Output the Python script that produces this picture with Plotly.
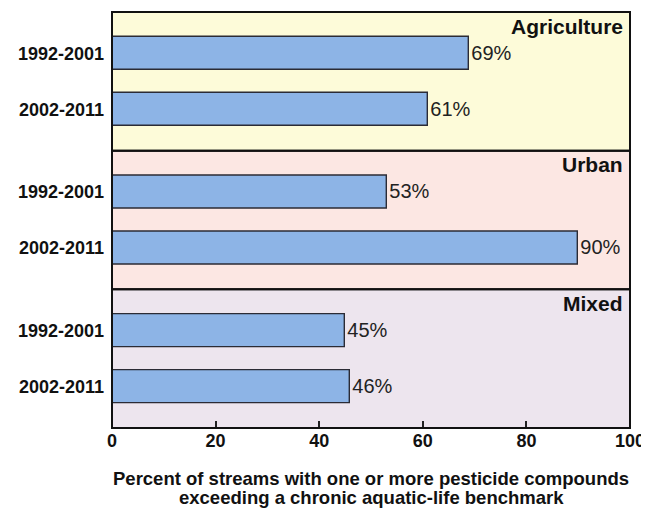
import plotly.graph_objects as go
from plotly.subplots import make_subplots

panels = ["Agriculture", "Urban", "Mixed"]
periods = ["1992-2001", "2002-2011"]
values = {
    "Agriculture": [69, 61],
    "Urban": [53, 90],
    "Mixed": [45, 46],
}
bg_colors = ["#FDFBD9", "#FCE7E3", "#EDE5EE"]
x_ticks = [0, 20, 40, 60, 80, 100]
title_lines = ["Percent of streams with one or more pesticide compounds",
               "exceeding a chronic aquatic-life benchmark"]

FONT = "Arial"
fig = make_subplots(rows=3, cols=1, shared_xaxes=True, vertical_spacing=0)

for i, p in enumerate(panels):
    r = i + 1
    fig.add_trace(go.Bar(
        y=periods, x=values[p], orientation="h",
        marker=dict(color="#8DB4E6", line=dict(color="#2B2B35", width=1.4)),
        width=0.59,
        text=[f"{v}%" for v in values[p]], textposition="outside",
        textfont=dict(family=FONT, size=20, color="#222222"),
        cliponaxis=False, showlegend=False,
    ), row=r, col=1)
    yname = "y" if r == 1 else f"y{r}"
    xname = "x" if r == 1 else f"x{r}"
    fig.add_shape(type="rect", xref=f"{xname} domain", yref=f"{yname} domain",
                  x0=0, x1=1, y0=0, y1=1, fillcolor=bg_colors[i],
                  line=dict(width=0), layer="below")
    fig.add_shape(type="rect", xref=f"{xname} domain", yref=f"{yname} domain",
                  x0=0, x1=1, y0=0, y1=1, fillcolor="rgba(0,0,0,0)",
                  line=dict(width=2, color="#111111"), layer="above")
    fig.add_annotation(text=f"<b>{p}</b>", xref=f"{xname} domain", yref=f"{yname} domain",
                       x=0.99, y=0.995, xanchor="right", yanchor="top", showarrow=False,
                       font=dict(family=FONT, size=21, color="#111111"))
    fig.update_yaxes(row=r, col=1, range=[1.74, -0.74], showline=False, ticks="",
                     ticklabelstandoff=7,
                     tickfont=dict(family=FONT, size=18, color="#111111", weight="bold"),
                     showgrid=False, zeroline=False)
    fig.update_xaxes(row=r, col=1, range=[0, 100], showline=False, showgrid=False,
                     zeroline=False, tickvals=x_ticks)

fig.update_xaxes(row=3, col=1, ticks="inside", ticklen=7, tickcolor="#222222", tickwidth=1.6,
                 tickfont=dict(family=FONT, size=18, color="#111111", weight="bold"))

for j, line in enumerate(title_lines):
    fig.add_annotation(text=f"<b>{line}</b>", xref="paper", yref="paper",
                       x=0.5, y=0, yshift=-50 - 19 * j, xanchor="center", yanchor="middle",
                       showarrow=False,
                       font=dict(family=FONT, size=18.5, color="#111111"))

fig.update_layout(
    width=641, height=502,
    margin=dict(l=104, r=19, t=4, b=82),
    paper_bgcolor="white", plot_bgcolor="white",
    bargap=0,
)

fig.write_html("out.html")
